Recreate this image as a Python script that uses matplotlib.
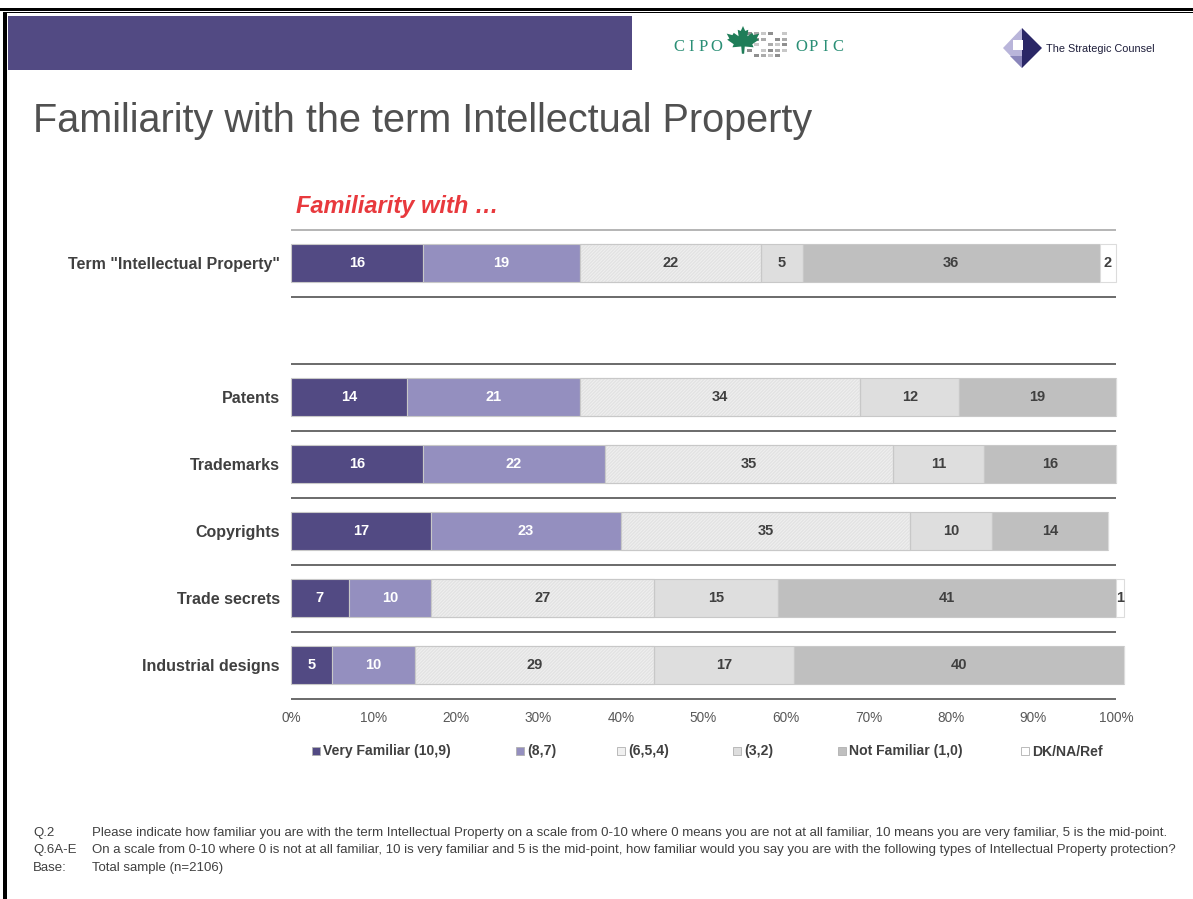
import numpy as np
import matplotlib
matplotlib.use("Agg")
import matplotlib.pyplot as plt
from matplotlib.patches import Rectangle, Polygon

plt.rcParams['font.family'] = ['Liberation Sans', 'DejaVu Sans']

# ---- data -------------------------------------------------------------
categories = ['Term "Intellectual Property"', 'Patents', 'Trademarks',
              'Copyrights', 'Trade secrets', 'Industrial designs']
row_pos = [0, 2, 3, 4, 5, 6]          # empty slot after the first row
levels = ['Very Familiar (10,9)', '(8,7)', '(6,5,4)', '(3,2)',
          'Not Familiar (1,0)', 'DK/NA/Ref']
very_familiar = [16, 14, 16, 17, 7, 5]
fam_8_7 = [19, 21, 22, 23, 10, 10]
fam_6_5_4 = [22, 34, 35, 35, 27, 29]
fam_3_2 = [5, 12, 11, 10, 15, 17]
not_familiar = [36, 19, 16, 14, 41, 40]
dk_na_ref = [2, 0, 0, 0, 1, 0]
tick_values = list(range(0, 101, 10))
tick_labels = [f'{v}%' for v in tick_values]

footnotes = [
    ('Q.2', 'Please indicate how familiar you are with the term Intellectual Property on a scale from 0-10 '
            'where 0 means you are not at all familiar, 10 means you are very familiar, 5 is the mid-point.'),
    ('Q.6A-E', 'On a scale from 0-10 where 0 is not at all familiar, 10 is very familiar and 5 is the mid-point, '
               'how familiar would you say you are with the following types of Intellectual Property protection?'),
    ('Base:', 'Total sample (n=2106)'),
]

colors = ['#524a83', '#948fbf', '#f0f0f0', '#dedede', '#bfbfbf', '#ffffff']
label_colors = ['white', 'white', '#404040', '#404040', '#404040', '#404040']
series = [very_familiar, fam_8_7, fam_6_5_4, fam_3_2, not_familiar, dk_na_ref]

W, H = 1193, 899
fig = plt.figure(figsize=(W / 100, H / 100), dpi=100)

# ---- page decoration (pixel coordinates) ------------------------------
page = fig.add_axes([0, 0, 1, 1])
page.set_xlim(0, W)
page.set_ylim(H, 0)
page.axis('off')

page.add_patch(Rectangle((0, 8), W, 3, color='black', lw=0))
page.add_patch(Rectangle((3, 11.5), W, 1.5, color='black', lw=0))
page.add_patch(Rectangle((3, 11.5), 3.5, H, color='black', lw=0))
page.add_patch(Rectangle((8, 16), 624, 54, color='#524a83', lw=0))

# CIPO / OPIC logo, letter-spaced
for word, x_start in (('CIPO', 679), ('OPIC', 801)):
    for i, ch in enumerate(word):
        page.text(x_start + i * 12.3, 47, ch, family='Liberation Serif',
                  fontsize=12, color='#2b8f76', va='center', ha='center')
for r in range(5):
    for c in range(6):
        if (r + c) % 5 == 4:
            continue
        shade = ['#8f8f8f', '#ababab', '#c8c8c8'][(r * 2 + c) % 3]
        page.add_patch(Rectangle((747 + c * 7, 32 + r * 5.5), 5.2, 3.2,
                                 color=shade, lw=0))
leaf = np.array([
    (0.00, 1.00), (0.10, 0.74), (0.24, 0.80), (0.20, 0.46), (0.42, 0.64),
    (0.48, 0.52), (0.74, 0.60), (0.62, 0.34), (0.72, 0.28), (0.42, 0.04),
    (0.48, -0.12), (0.08, -0.08), (0.05, -0.46), (-0.05, -0.46),
    (-0.08, -0.08), (-0.48, -0.12), (-0.42, 0.04), (-0.72, 0.28),
    (-0.62, 0.34), (-0.74, 0.60), (-0.48, 0.52), (-0.42, 0.64),
    (-0.20, 0.46), (-0.24, 0.80), (-0.10, 0.74)])
leaf_xy = np.column_stack([743 + leaf[:, 0] * 22, 45 - leaf[:, 1] * 19])
page.add_patch(Polygon(leaf_xy, closed=True, color='#1f7d58', lw=0))

# The Strategic Counsel logo
page.add_patch(Polygon([(1003, 48), (1022, 28), (1022, 68)], closed=True,
                       color='#b9b5da', lw=0))
page.add_patch(Polygon([(1022, 28), (1042, 48), (1022, 68)], closed=True,
                       color='#2a2766', lw=0))
page.add_patch(Polygon([(1010, 56), (1022, 68), (1022, 56)], closed=True,
                       color='#8a86bb', lw=0))
page.add_patch(Rectangle((1013, 40), 10, 10, color='white', lw=0))
page.text(1046, 49, 'The Strategic Counsel', fontsize=7.8, color='#1d1d3a',
          va='center', ha='left')

# titles
page.text(33, 121, 'Familiarity with the term Intellectual Property',
          fontsize=28.5, color='#505050', va='center', ha='left')
page.text(296, 207, 'Familiarity with \u2026', fontsize=17, fontweight='bold',
          fontstyle='italic', color='#e8393d', va='center', ha='left')

# legend
legend_x = [312, 516, 617, 733, 838, 1021]
for x, lab, col in zip(legend_x, levels, colors):
    page.add_patch(Rectangle((x, 747), 8, 8, facecolor=col,
                             edgecolor='#b0b0b0', lw=0.6))
    page.text(x + 11, 751.5, lab, fontsize=10.1, fontweight='bold',
              color='#404040', va='center', ha='left')

# footnotes
for i, (tag, txt) in enumerate(footnotes):
    y = 833 + i * 17.5
    page.text(33, y, tag, fontsize=9.5, color='#404040', va='center', ha='left')
    page.text(92, y, txt, fontsize=9.5, color='#404040', va='center', ha='left')

# ---- chart --------------------------------------------------------------
x0, x1 = 291, 1116
y_top, y_bot = 229.5, 698.5
ax = fig.add_axes([x0 / W, 1 - y_bot / H, (x1 - x0) / W, (y_bot - y_top) / H])
ax.set_facecolor('none')

left = np.zeros(len(categories))
for k, (vals, col) in enumerate(zip(series, colors)):
    vals = np.array(vals, dtype=float)
    edge = '#c8c8c8' if k < 5 else '#dcdcdc'
    ax.barh(row_pos, vals, left=left, height=0.58, color=col,
            edgecolor=edge, linewidth=0.8, clip_on=False, zorder=2)
    if k == 2:
        ax.barh(row_pos, vals, left=left, height=0.58, facecolor='none',
                edgecolor='#e3e3e3', linewidth=0, hatch='//////////',
                clip_on=False, zorder=2.5)
        ax.barh(row_pos, vals, left=left, height=0.58, facecolor='none',
                edgecolor='#c8c8c8', linewidth=0.8, clip_on=False, zorder=2.6)
    for p, v, l in zip(row_pos, vals, left):
        if v > 0:
            ax.text(l + v / 2, p, f'{v:g}', ha='center', va='center',
                    fontsize=10.5, fontweight='bold', color=label_colors[k],
                    zorder=4, clip_on=False)
    left = left + vals

sep = np.arange(-0.5, 7, 1.0)
line_cols = ['#b4b4b4'] + ['#6a6a6a'] * (len(sep) - 1)
ax.hlines(sep, 0, 100, colors=line_cols, linewidth=1.4, zorder=1,
          clip_on=False)

ax.set_xlim(0, 100)
ax.set_ylim(6.5, -0.5)
ax.set_xticks(tick_values, tick_labels)
ax.set_yticks(row_pos, categories)
ax.tick_params(axis='x', length=0, pad=9, labelsize=9.8, labelcolor='#595959')
ax.tick_params(axis='y', length=0, pad=8, labelsize=11.5, labelcolor='#404040')
for t in ax.get_yticklabels():
    t.set_fontweight('bold')
for s in ax.spines.values():
    s.set_visible(False)

fig.savefig('out.png', dpi=100)
